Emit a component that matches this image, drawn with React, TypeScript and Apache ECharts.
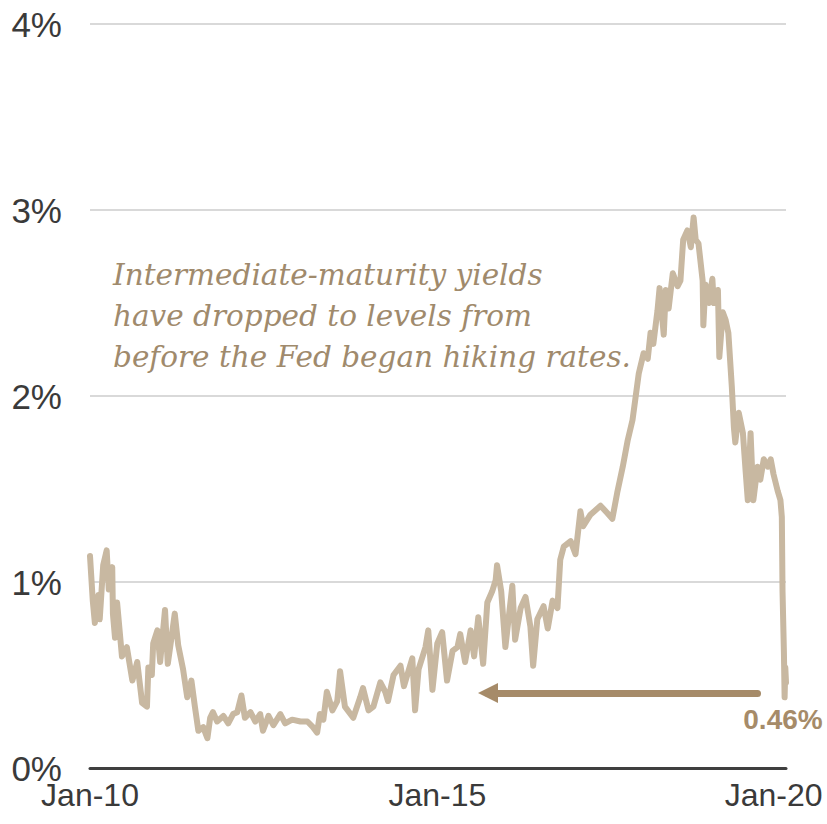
import React, { useEffect, useRef } from "react";
import * as echarts from "echarts";

// Decimal years (x) and 2-year Treasury yields in % (y)
const years: number[] = [
  2010.00, 2010.04, 2010.07, 2010.12, 2010.14, 2010.19, 2010.24, 2010.27, 2010.32, 2010.33,
  2010.36, 2010.39, 2010.46, 2010.53, 2010.61, 2010.68, 2010.75, 2010.82, 2010.84, 2010.89,
  2010.91, 2010.97, 2011.01, 2011.08, 2011.12, 2011.18, 2011.22, 2011.27, 2011.34, 2011.40,
  2011.46, 2011.51, 2011.56, 2011.63, 2011.69, 2011.73, 2011.77, 2011.83, 2011.92, 2011.99,
  2012.06, 2012.12, 2012.18, 2012.23, 2012.31, 2012.38, 2012.45, 2012.49, 2012.57, 2012.64,
  2012.74, 2012.81, 2012.91, 2013.03, 2013.13, 2013.21, 2013.27, 2013.31, 2013.36, 2013.41,
  2013.49, 2013.56, 2013.60, 2013.67, 2013.79, 2013.89, 2013.93, 2014.01, 2014.08, 2014.18,
  2014.25, 2014.29, 2014.37, 2014.47, 2014.52, 2014.64, 2014.68, 2014.73, 2014.83, 2014.87,
  2014.93, 2015.00, 2015.07, 2015.14, 2015.22, 2015.29, 2015.33, 2015.40, 2015.48, 2015.53,
  2015.59, 2015.66, 2015.72, 2015.79, 2015.84, 2015.86, 2015.92, 2015.98, 2016.08, 2016.12,
  2016.20, 2016.27, 2016.34, 2016.38, 2016.44, 2016.53, 2016.59, 2016.66, 2016.73, 2016.77,
  2016.82, 2016.92, 2016.99, 2017.06, 2017.10, 2017.20, 2017.35, 2017.45, 2017.52, 2017.59,
  2017.67, 2017.74, 2017.81, 2017.85, 2017.90, 2017.97, 2018.03, 2018.07, 2018.11, 2018.17,
  2018.20, 2018.26, 2018.29, 2018.33, 2018.39, 2018.46, 2018.50, 2018.54, 2018.60, 2018.65,
  2018.69, 2018.72, 2018.76, 2018.82, 2018.83, 2018.86, 2018.91, 2018.96, 2018.98, 2019.04,
  2019.06, 2019.11, 2019.15, 2019.19, 2019.24, 2019.27, 2019.29, 2019.34, 2019.40, 2019.44,
  2019.47, 2019.51, 2019.55, 2019.61, 2019.65, 2019.70, 2019.76, 2019.80, 2019.84, 2019.90,
  2019.94, 2019.96, 2019.97, 2019.99, 2020.00, 2020.01, 2020.02,
];

const yields: number[] = [
  1.14, 0.90, 0.78, 0.93, 0.80, 1.09, 1.17, 0.96, 1.08, 0.83,
  0.70, 0.89, 0.60, 0.65, 0.47, 0.57, 0.35, 0.33, 0.54, 0.50,
  0.67, 0.74, 0.57, 0.85, 0.56, 0.72, 0.83, 0.66, 0.53, 0.38,
  0.47, 0.33, 0.20, 0.22, 0.16, 0.27, 0.30, 0.25, 0.28, 0.24,
  0.29, 0.30, 0.39, 0.27, 0.30, 0.25, 0.29, 0.20, 0.28, 0.23,
  0.29, 0.24, 0.26, 0.25, 0.25, 0.22, 0.19, 0.29, 0.26, 0.41,
  0.31, 0.36, 0.52, 0.33, 0.27, 0.38, 0.43, 0.31, 0.33, 0.46,
  0.41, 0.36, 0.50, 0.55, 0.44, 0.59, 0.31, 0.53, 0.65, 0.74,
  0.42, 0.67, 0.73, 0.47, 0.63, 0.65, 0.72, 0.57, 0.74, 0.60,
  0.81, 0.56, 0.89, 0.95, 1.01, 1.09, 0.95, 0.65, 0.98, 0.69,
  0.86, 0.92, 0.76, 0.55, 0.80, 0.87, 0.75, 0.90, 0.86, 1.12,
  1.19, 1.22, 1.15, 1.38, 1.30, 1.36, 1.41, 1.37, 1.34, 1.48,
  1.62, 1.76, 1.87, 1.98, 2.12, 2.23, 2.20, 2.34, 2.28, 2.46,
  2.58, 2.33, 2.57, 2.47, 2.66, 2.59, 2.62, 2.84, 2.89, 2.80,
  2.96, 2.84, 2.82, 2.62, 2.38, 2.60, 2.50, 2.63, 2.50, 2.57,
  2.21, 2.45, 2.41, 2.34, 2.05, 1.83, 1.75, 1.91, 1.80, 1.59,
  1.44, 1.80, 1.44, 1.62, 1.55, 1.66, 1.62, 1.66, 1.58, 1.49,
  1.44, 1.35, 0.95, 0.62, 0.38, 0.54, 0.46,
];

const xTickYears: number[] = [2010, 2015, 2020];
const xTickLabels: string[] = ["Jan-10", "Jan-15", "Jan-20"];
const yTicks: number[] = [0, 1, 2, 3, 4];

// Arrow pointing back to when yields were last at this level
const arrowFrom: [number, number] = [2019.61, 0.403];
const arrowTo: [number, number] = [2015.73, 0.403];

const annotation = [
  "Intermediate-maturity yields",
  "have dropped to levels from",
  "before the Fed began hiking rates.",
];

const LINE = "#C8B8A1";
const ACCENT = "#A68B69";
const TEXT = "#A08A6C";
const AXIS_TEXT = "#3A3A3A";
const SANS = "'Liberation Sans', Arial, sans-serif";

export default function App() {
  const ref = useRef<HTMLDivElement>(null);

  useEffect(() => {
    if (!ref.current) return;
    const chart = echarts.init(ref.current, undefined, { renderer: "svg" });
    const data = years.map((y, i) => [y, yields[i]]);
    chart.setOption({
      animation: false,
      backgroundColor: "#ffffff",
      grid: {
        left: 90,
        right: 41,
        top: 24,
        bottom: 56,
        containLabel: false,
        outerBoundsMode: "none",
      },
      xAxis: {
        type: "value",
        min: 2010,
        max: 2020.02,
        interval: 5,
        axisLine: { show: true, lineStyle: { color: "#3F3F3F", width: 3 } },
        axisTick: { show: false },
        splitLine: { show: false },
        axisLabel: {
          margin: 13,
          color: AXIS_TEXT,
          fontFamily: SANS,
          fontSize: 32,
          lineHeight: 28,
          formatter: (v: number) => {
            const idx = xTickYears.findIndex((t) => Math.abs(t - v) < 1e-6);
            if (idx < 0) return "";
            return idx === xTickYears.length - 1
              ? `{last|${xTickLabels[idx]}}`
              : xTickLabels[idx];
          },
          rich: {
            last: {
              color: AXIS_TEXT,
              fontFamily: SANS,
              fontSize: 32,
              lineHeight: 28,
              padding: [0, 22, 0, 0],
            },
          },
        },
      },
      yAxis: {
        type: "value",
        min: yTicks[0],
        max: yTicks[yTicks.length - 1],
        interval: 1,
        axisLine: { show: false },
        axisTick: { show: false },
        splitLine: { show: true, lineStyle: { color: "#D9D9D9", width: 2 } },
        axisLabel: {
          margin: 28,
          color: AXIS_TEXT,
          fontFamily: SANS,
          fontSize: 35,
          lineHeight: 26,
          formatter: "{value}%",
        },
      },
      series: [
        {
          type: "line",
          data,
          showSymbol: false,
          symbol: "none",
          lineStyle: { color: LINE, width: 6, cap: "round", join: "round" },
          z: 3,
          endLabel: {
            show: true,
            formatter: (p: any) => `${p.value[1].toFixed(2)}%`,
            color: ACCENT,
            fontFamily: SANS,
            fontWeight: "bold",
            fontSize: 28,
            align: "center",
            verticalAlign: "middle",
            distance: 0,
            offset: [-3, 37],
          },
          markLine: {
            silent: true,
            symbol: ["none", "triangle"],
            symbolSize: [20, 20],
            label: { show: false },
            lineStyle: { color: ACCENT, width: 7, type: "solid", cap: "round" },
            data: [
              [
                { coord: arrowFrom },
                { coord: arrowTo },
              ],
            ],
          },
        },
      ],
      graphic: [
        {
          type: "text",
          left: 113,
          top: 254,
          style: {
            text: annotation.join("\n"),
            fill: TEXT,
            font: "italic 29.5px 'DejaVu Serif', Georgia, serif",
            lineHeight: 41,
          },
        },
      ],
    });
    return () => chart.dispose();
  }, []);

  return (
    <div
      ref={ref}
      style={{ position: "fixed", left: 0, top: 0, width: 827, height: 824 }}
    />
  );
}
